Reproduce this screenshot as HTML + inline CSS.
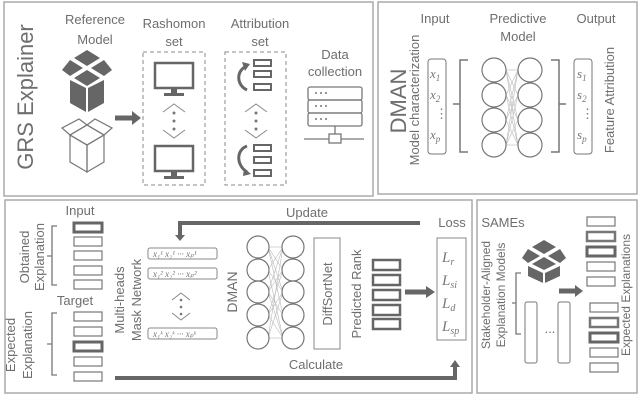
<!DOCTYPE html>
<html><head><meta charset="utf-8"><style>
html,body{margin:0;padding:0;background:#fff;width:640px;height:412px;overflow:hidden}
svg{display:block;font-family:"Liberation Sans","DejaVu Sans",sans-serif}
.t{fill:#6e6e6e;font-size:13px;text-anchor:middle}
.m{font-family:"Liberation Serif",serif;font-style:italic;fill:#777;font-size:13px}
</style></head><body>
<svg width="640" height="412" viewBox="0 0 640 412" xmlns="http://www.w3.org/2000/svg">
<g fill="none" stroke="#aaa" stroke-width="1.5">
<rect x="4" y="2" width="369" height="194"/>
<rect x="378" y="2" width="259" height="192"/>
<rect x="5" y="200" width="467" height="193"/>
<rect x="477" y="200" width="160" height="193"/>
</g>

<text class="t" style="font-size:22px" transform="translate(33,97) rotate(-90)">GRS Explainer</text>
<text class="t" x="95" y="24">Reference</text><text class="t" x="95" y="44">Model</text>
<g fill="#666">
<polygon points="87,50 100,58 87,66 74,58"/>
<polygon points="70,60 83,68 70,76 62,70"/>
<polygon points="104,60 112,70 104,76 91,68"/>
<polygon points="87,70 100,78 87,86 74,78"/>
<polygon points="70,80 86,88 86,112 70,103"/>
<polygon points="88,88 104,80 104,103 88,112"/>
</g>
<g fill="none" stroke="#777" stroke-width="1.2">
<polygon points="70,135 87,145 104,135 87,125"/>
<polygon points="70,135 87,145 87,172 70,162"/>
<polygon points="104,135 87,145 87,172 104,162"/>
<polygon points="70,135 62,128 79,119 87,125"/>
<polygon points="104,135 112,128 95,119 87,125"/>
</g>
<line x1="115" y1="118" x2="133" y2="118" stroke="#666" stroke-width="5"/>
<polygon points="132,111 141,118 132,125" fill="#666"/>
<text class="t" x="174" y="28">Rashomon</text><text class="t" x="174" y="46">set</text>
<rect x="143" y="52" width="62" height="133" fill="none" stroke="#888" stroke-dasharray="4,3"/>
<g fill="none" stroke="#666" stroke-width="2.5">
<rect x="155" y="63" width="38" height="25"/><rect x="155" y="146" width="38" height="25"/>
</g>
<g fill="#666"><rect x="171" y="89" width="6" height="5"/><rect x="164" y="93" width="20" height="3"/>
<rect x="171" y="172" width="6" height="5"/><rect x="164" y="176" width="20" height="3"/></g>
<g fill="none" stroke="#888"><polyline points="163,112 174,104 185,112"/><polyline points="163,130 174,138 185,130"/>
<polyline points="245,112 256,104 267,112"/><polyline points="245,130 256,138 267,130"/></g>
<g fill="#777"><circle cx="174" cy="113" r="1.5"/><circle cx="174" cy="121" r="1.5"/><circle cx="174" cy="129" r="1.5"/>
<circle cx="256" cy="113" r="1.5"/><circle cx="256" cy="121" r="1.5"/><circle cx="256" cy="129" r="1.5"/></g>
<text class="t" x="260" y="28">Attribution</text><text class="t" x="260" y="46">set</text>
<rect x="225" y="52" width="61" height="133" fill="none" stroke="#888" stroke-dasharray="4,3"/>
<g fill="none" stroke="#666" stroke-width="2">
<rect x="254" y="60" width="17" height="6"/><rect x="254" y="71" width="17" height="6"/><rect x="254" y="84" width="17" height="6"/>
<rect x="254" y="145" width="17" height="6"/><rect x="254" y="157" width="17" height="6"/><rect x="254" y="170" width="17" height="6"/>
<path d="M247,66 C236,70 236,85 247,90" stroke-width="3"/>
<path d="M247,146 C236,150 236,165 247,172" stroke-width="3"/>
</g>
<polygon points="242,62 250,64 245,71" fill="#666"/>
<polygon points="244,168 251,174 243,176" fill="#666"/>
<text class="t" x="335" y="59">Data</text><text class="t" x="335" y="76">collection</text>
<g fill="none" stroke="#777" stroke-width="1.3">
<rect x="308" y="87" width="54" height="13" rx="2"/><rect x="308" y="100" width="54" height="13" rx="2"/><rect x="308" y="113" width="54" height="13" rx="2"/>
<line x1="335" y1="126" x2="335" y2="134"/><line x1="304" y1="139" x2="329" y2="139"/><line x1="341" y1="139" x2="364" y2="139"/>
<rect x="329" y="134" width="12" height="9"/></g>
<g fill="#777"><circle cx="316" cy="93" r="1"/><circle cx="321" cy="93" r="1"/><circle cx="326" cy="93" r="1"/>
<circle cx="316" cy="106" r="1"/><circle cx="321" cy="106" r="1"/><circle cx="326" cy="106" r="1"/>
<circle cx="316" cy="119" r="1"/><circle cx="321" cy="119" r="1"/><circle cx="326" cy="119" r="1"/></g>

<text class="t" style="font-size:22px" transform="translate(406,101) rotate(-90)">DMAN</text>
<text class="t" transform="translate(419,100) rotate(-90)">Model characterization</text>
<text class="t" x="435" y="23">Input</text><text class="t" x="518" y="23">Predictive</text><text class="t" x="518" y="41">Model</text><text class="t" x="596" y="23">Output</text>
<rect x="428" y="59" width="18" height="95" rx="3" fill="none" stroke="#777"/>
<rect x="574" y="59" width="18" height="95" rx="3" fill="none" stroke="#777"/>
<text class="m" x="430" y="78">x<tspan font-size="9" dy="3">1</tspan></text>
<text class="m" x="430" y="99">x<tspan font-size="9" dy="3">2</tspan></text>
<text class="m" x="435" y="118" style="font-style:normal">⋮</text>
<text class="m" x="430" y="139">x<tspan font-size="9" dy="3">p</tspan></text>
<text class="m" x="577" y="78">s<tspan font-size="9" dy="3">1</tspan></text>
<text class="m" x="577" y="99">s<tspan font-size="9" dy="3">2</tspan></text>
<text class="m" x="581" y="118" style="font-style:normal">⋮</text>
<text class="m" x="577" y="139">s<tspan font-size="9" dy="3">p</tspan></text>
<g fill="none" stroke="#777" stroke-width="1.5">
<path d="M468,60 H460 V104 H453 M460,104 V152 H468"/>
<path d="M551,60 H559 V104 H566 M559,104 V152 H551"/>
</g>
<g stroke="#bbb" stroke-width="0.6">
<line x1="506" y1="70" x2="518" y2="95"/><line x1="506" y1="70" x2="518" y2="120"/><line x1="506" y1="70" x2="518" y2="145"/><line x1="506" y1="70" x2="518" y2="70"/>
<line x1="506" y1="95" x2="518" y2="70"/><line x1="506" y1="95" x2="518" y2="120"/><line x1="506" y1="95" x2="518" y2="145"/>
<line x1="506" y1="120" x2="518" y2="70"/><line x1="506" y1="120" x2="518" y2="95"/><line x1="506" y1="120" x2="518" y2="145"/>
<line x1="506" y1="145" x2="518" y2="70"/><line x1="506" y1="145" x2="518" y2="95"/><line x1="506" y1="145" x2="518" y2="120"/><line x1="506" y1="145" x2="518" y2="145"/>
</g>
<g fill="#fff" stroke="#777" stroke-width="1.2">
<circle cx="494" cy="70" r="12"/><circle cx="494" cy="95" r="12"/><circle cx="494" cy="120" r="12"/><circle cx="494" cy="145" r="12"/>
<circle cx="530" cy="70" r="12"/><circle cx="530" cy="95" r="12"/><circle cx="530" cy="120" r="12"/><circle cx="530" cy="145" r="12"/>
</g>
<text class="t" transform="translate(614,100) rotate(-90)">Feature Attribution</text>

<text class="t" x="80" y="215">Input</text>
<text class="t" transform="translate(29,257) rotate(-90)">Obtained</text>
<text class="t" transform="translate(44,257) rotate(-90)">Explanation</text>
<text class="t" x="75" y="305">Target</text>
<text class="t" transform="translate(15,345) rotate(-90)">Expected</text>
<text class="t" transform="translate(32,345) rotate(-90)">Explanation</text>
<g fill="none" stroke="#777" stroke-width="1.3">
<path d="M57,226 H52 V285 H57 M52,256 H47"/>
<path d="M57,313 H52 V375 H57 M52,344 H47"/>
</g>
<g fill="none" stroke="#777" stroke-width="1.2">
<rect x="74" y="223" width="28" height="9" stroke-width="3" stroke="#666"/>
<rect x="74" y="237" width="28" height="9"/><rect x="74" y="251" width="28" height="9"/><rect x="74" y="266" width="28" height="9"/><rect x="74" y="280" width="28" height="9"/>
<rect x="74" y="312" width="28" height="9"/><rect x="74" y="327" width="28" height="9"/>
<rect x="74" y="342" width="28" height="9" stroke-width="3" stroke="#666"/><rect x="74" y="357" width="28" height="9"/><rect x="74" y="372" width="28" height="9"/>
</g>
<text class="t" transform="translate(124,300) rotate(-90)">Multi-heads</text>
<text class="t" transform="translate(141,300) rotate(-90)">Mask Network</text>
<text class="t" x="307" y="217">Update</text>
<path d="M420,223 H180 V236" fill="none" stroke="#666" stroke-width="4"/>
<polygon points="175,235 185,235 180,241" fill="#666"/>
<g fill="none" stroke="#888" stroke-width="1">
<rect x="148" y="248" width="69" height="11" rx="2"/><rect x="148" y="268" width="69" height="11" rx="2"/><rect x="148" y="328" width="69" height="11" rx="2"/>
<polyline points="172,300 181,293 190,300"/><polyline points="172,313 181,320 190,313"/></g>
<g fill="#777"><circle cx="181" cy="300" r="1.3"/><circle cx="181" cy="307" r="1.3"/><circle cx="181" cy="314" r="1.3"/></g>
<g class="m" style="font-size:9px">
<text x="153" y="257">x₁¹ x₂¹ ··· xₚ¹</text>
<text x="153" y="277">x₁² x₂² ··· xₚ²</text>
<text x="153" y="337">x₁ᵏ x₂ᵏ ··· xₚᵏ</text>
</g>
<text class="t" style="font-size:14px" transform="translate(237,292) rotate(-90)">DMAN</text>
<g stroke="#bbb" stroke-width="0.6">
<line x1="268" y1="247" x2="283" y2="270"/><line x1="268" y1="247" x2="283" y2="292"/><line x1="268" y1="247" x2="283" y2="315"/><line x1="268" y1="247" x2="283" y2="247"/>
<line x1="268" y1="270" x2="283" y2="247"/><line x1="268" y1="270" x2="283" y2="292"/><line x1="268" y1="270" x2="283" y2="338"/>
<line x1="268" y1="292" x2="283" y2="247"/><line x1="268" y1="292" x2="283" y2="270"/><line x1="268" y1="292" x2="283" y2="315"/><line x1="268" y1="292" x2="283" y2="338"/>
<line x1="268" y1="315" x2="283" y2="270"/><line x1="268" y1="315" x2="283" y2="338"/><line x1="268" y1="315" x2="283" y2="292"/>
<line x1="268" y1="338" x2="283" y2="247"/><line x1="268" y1="338" x2="283" y2="292"/><line x1="268" y1="338" x2="283" y2="338"/>
</g>
<g fill="#fff" stroke="#777" stroke-width="1.2">
<circle cx="258" cy="247" r="11"/><circle cx="258" cy="270" r="11"/><circle cx="258" cy="292" r="11"/><circle cx="258" cy="315" r="11"/><circle cx="258" cy="338" r="11"/>
<circle cx="293" cy="247" r="11"/><circle cx="293" cy="270" r="11"/><circle cx="293" cy="292" r="11"/><circle cx="293" cy="315" r="11"/><circle cx="293" cy="338" r="11"/>
</g>
<rect x="314" y="238" width="26" height="111" fill="none" stroke="#888"/>
<text class="t" transform="translate(332,294) rotate(-90)">DiffSortNet</text>
<text class="t" transform="translate(361,294) rotate(-90)">Predicted Rank</text>
<g fill="none" stroke="#666" stroke-width="2.5">
<rect x="373" y="260" width="27" height="10"/><rect x="373" y="275" width="27" height="10"/><rect x="373" y="290" width="27" height="10"/><rect x="373" y="305" width="27" height="10"/><rect x="373" y="319" width="27" height="10"/>
</g>
<line x1="405" y1="292" x2="427" y2="292" stroke="#666" stroke-width="5"/>
<polygon points="426,286 435,292 426,298" fill="#666"/>
<text class="t" x="452" y="227">Loss</text>
<rect x="437" y="238" width="29" height="102" fill="none" stroke="#888"/>
<g class="m" style="font-size:15px">
<text x="442" y="262">L<tspan font-size="10" dy="3">r</tspan></text>
<text x="442" y="285">L<tspan font-size="10" dy="3">si</tspan></text>
<text x="442" y="308">L<tspan font-size="10" dy="3">d</tspan></text>
<text x="442" y="331">L<tspan font-size="10" dy="3">sp</tspan></text>
</g>
<text class="t" x="316" y="369">Calculate</text>
<path d="M115,378 H455 V366" fill="none" stroke="#666" stroke-width="4"/>
<polygon points="450,367 460,367 455,360" fill="#666"/>

<text class="t" x="503" y="227">SAMEs</text>
<text class="t" style="font-size:12px" transform="translate(490,295) rotate(-90)">Stakeholder-Aligned</text>
<text class="t" style="font-size:12px" transform="translate(505,295) rotate(-90)">Explanation Models</text>
<g fill="#666">
<polygon points="544,240 556,247 544,254 532,247"/>
<polygon points="528,249 540,256 528,263 522,258"/>
<polygon points="560,249 566,258 560,263 548,256"/>
<polygon points="544,257 556,264 544,270 532,264"/>
<polygon points="528,266 543,273 543,283 528,276"/>
<polygon points="545,273 560,266 560,276 545,283"/>
</g>
<path d="M521,273 H516 V334 H521 M516,303 H512" fill="none" stroke="#777" stroke-width="1.3"/>
<rect x="525" y="302" width="12" height="61" rx="2" fill="none" stroke="#777"/>
<rect x="558" y="302" width="12" height="61" rx="2" fill="none" stroke="#777"/>
<text class="t" x="550" y="333">...</text>
<line x1="559" y1="291" x2="576" y2="291" stroke="#666" stroke-width="5"/>
<polygon points="575,285 583,291 575,297" fill="#666"/>
<g fill="none" stroke="#777" stroke-width="1.2">
<rect x="587" y="217" width="28" height="9"/><rect x="587" y="232" width="28" height="9" stroke-width="2.5"/><rect x="587" y="247" width="28" height="9" stroke-width="3" stroke="#666"/><rect x="587" y="262" width="28" height="9"/><rect x="587" y="277" width="28" height="9"/>
<rect x="590" y="303" width="28" height="9"/><rect x="590" y="318" width="28" height="9" stroke-width="2.5"/><rect x="590" y="333" width="28" height="9" stroke-width="3" stroke="#666"/><rect x="590" y="348" width="28" height="9"/><rect x="590" y="363" width="28" height="9"/>
</g>
<text class="t" style="font-size:12px" transform="translate(630,295) rotate(-90)">Expected Explanations</text>

<text x="0" y="423" fill="#777" font-size="14">Figure 1: The EWASREF framework overview, the illustrated components of EWASREF</text>
</svg>
</body></html>
